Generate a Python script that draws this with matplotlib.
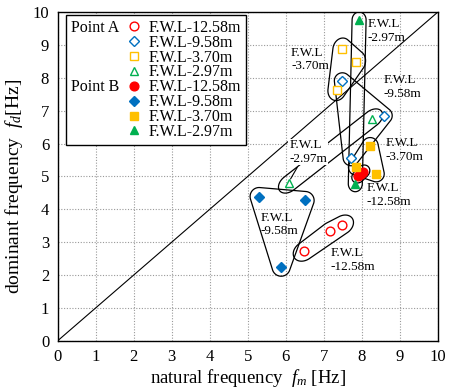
import numpy as np
import matplotlib
matplotlib.use("Agg")
import matplotlib.pyplot as plt
from matplotlib.lines import Line2D
from matplotlib.patches import Polygon, Rectangle

plt.rcParams["font.family"] = ["Liberation Serif", "DejaVu Serif"]
plt.rcParams["mathtext.fontset"] = "custom"
plt.rcParams["mathtext.rm"] = "Liberation Serif"
plt.rcParams["mathtext.it"] = "Liberation Serif:italic"

# natural frequency fm / dominant frequency fd
a1258_fm = [6.49, 7.17, 7.49]
a1258_fd = [2.73, 3.33, 3.52]
a958_fm = [7.49, 8.59, 7.72]
a958_fd = [7.91, 6.85, 5.57]
a370_fm = [7.48, 7.86, 7.35]
a370_fd = [8.88, 8.49, 7.64]
a297_fm = [8.27, 6.09]
a297_fd = [6.76, 4.79]
b1258_fm = [7.91, 7.97, 8.04]
b1258_fd = [5.00, 5.09, 5.15]
b958_fm = [5.30, 6.51, 5.88]
b958_fd = [4.39, 4.27, 2.24]
b370_fm = [8.22, 7.86, 8.38]
b370_fd = [5.94, 5.28, 5.08]
b297_fm = [7.93, 7.83]
b297_fd = [9.76, 4.78]

levels = ["F.W.L-12.58m", "F.W.L-9.58m", "F.W.L-3.70m", "F.W.L-2.97m"]

red = "#ff0000"
blue = "#0070c0"
yellow = "#ffc000"
green = "#00b050"

fig = plt.figure(figsize=(4.57, 3.90), dpi=100)
ax = fig.add_axes([0.126, 0.126, 0.832, 0.843])
ax.set_xlim(0, 10)
ax.set_ylim(0, 10)
ax.set_xticks(range(11))
ax.set_yticks(range(11))
ax.tick_params(length=0, labelsize=12, pad=6)
ax.grid(True, color="#999999", linestyle=(0, (1, 1.5)), linewidth=0.8)
ax.set_axisbelow(True)
for s in ax.spines.values():
    s.set_linewidth(1.0)

ax.plot([0, 10], [0, 10], color="black", lw=0.8, zorder=2)

groups = [
    (a1258_fm, a1258_fd, "o", red, False, 6.3),
    (a958_fm, a958_fd, "D", blue, False, 4.6),
    (a370_fm, a370_fd, "s", yellow, False, 5.4),
    (a297_fm, a297_fd, "^", green, False, 5.6),
    (b1258_fm, b1258_fd, "o", red, True, 6.3),
    (b958_fm, b958_fd, "D", blue, True, 4.6),
    (b370_fm, b370_fd, "s", yellow, True, 5.4),
    (b297_fm, b297_fd, "^", green, True, 5.6),
]

handles = []
for xs, ys, mk, col, filled, ms in groups:
    kw = dict(marker=mk, ms=ms, linestyle="none", mec=col, mew=1.0,
              mfc=col if filled else "white")
    ax.plot(xs, ys, zorder=4, **kw)
    handles.append(Line2D([], [], **kw))


def outline(xs, ys, pad_a, pad_b):
    # rounded hull round a group, padding given in pixels
    pts = ax.transData.transform(np.column_stack([xs, ys]))
    d = pts - pts.mean(axis=0)
    if len(pts) > 1:
        _, _, vt = np.linalg.svd(d)
        v = vt[0]
    else:
        v = np.array([1.0, 0.0])
    w = np.array([-v[1], v[0]])
    m = np.column_stack([v * pad_a, w * pad_b])
    t = np.linspace(0, 2 * np.pi, 300)
    u = np.column_stack([np.cos(t), np.sin(t)])
    idx = np.argmax(pts @ u.T, axis=0)
    mtu = u @ m
    off = (mtu @ m.T) / np.linalg.norm(mtu, axis=1)[:, None]
    ring = pts[idx] + off
    ring = ax.transData.inverted().transform(ring)
    ax.add_patch(Polygon(ring, closed=True, fill=False, ec="black", lw=0.9, zorder=3))


outline(b297_fm, b297_fd, 8, 7)
outline(a370_fm, a370_fd, 11, 9)
outline(a958_fm, a958_fd, 8, 8)
outline(a297_fm, a297_fd, 12, 8)
outline(b370_fm, b370_fd, 8, 8)
outline(b1258_fm, b1258_fd, 7, 6)
outline(b958_fm, b958_fd, 9, 9)
outline(a1258_fm, a1258_fd, 12, 9)

notes = [
    (8.15, 9.42, "F.W.L\n-2.97m", False),
    (6.14, 8.56, "F.W.L\n-3.70m", False),
    (8.57, 7.72, "F.W.L\n-9.58m", False),
    (6.09, 5.74, "F.W.L\n-2.97m", True),
    (8.62, 5.81, "F.W.L\n-3.70m", False),
    (8.12, 4.44, "F.W.L\n-12.58m", False),
    (5.33, 3.54, "F.W.L\n-9.58m", False),
    (7.17, 2.46, "F.W.L\n-12.58m", False),
]
for x, y, s, boxed in notes:
    t = ax.text(x, y, s, ha="left", va="center", fontsize=9.5, linespacing=1.15, zorder=5)
    if boxed:
        t.set_bbox(dict(facecolor="white", edgecolor="none", pad=0.5))
ax.plot([6.3, 6.13], [5.27, 4.93], color="black", lw=0.8, zorder=3)

ax.set_xlabel("natural frequency  $f_m$ [Hz]", fontsize=13.5, labelpad=1)
ax.set_ylabel("dominant frequency  $f_d$[Hz]", fontsize=14, labelpad=2)
ax.yaxis.set_label_coords(-0.085, 0.47)

leg = ax.legend(handles, levels * 2, loc="upper left", bbox_to_anchor=(0.167, 0.991),
                frameon=False, fontsize=11.5, handlelength=1.0, handletextpad=0.45,
                labelspacing=-0.07, borderpad=0.3, borderaxespad=0)
leg.set_zorder(6)
fig.canvas.draw()
inv = ax.transAxes.inverted()
bb = leg.get_window_extent().transformed(inv)
ax.add_patch(Rectangle((0.022, bb.y0), bb.x1 - 0.022, bb.y1 - bb.y0, transform=ax.transAxes,
                       facecolor="white", edgecolor="black", lw=1.0, zorder=5.5))
texts = leg.get_texts()
for i, name in [(0, "Point A"), (4, "Point B")]:
    tb = texts[i].get_window_extent().transformed(inv)
    ax.text(0.035, (tb.y0 + tb.y1) / 2, name, transform=ax.transAxes,
            ha="left", va="center", fontsize=11.5, zorder=7)

fig.savefig("out.png", dpi=100)
